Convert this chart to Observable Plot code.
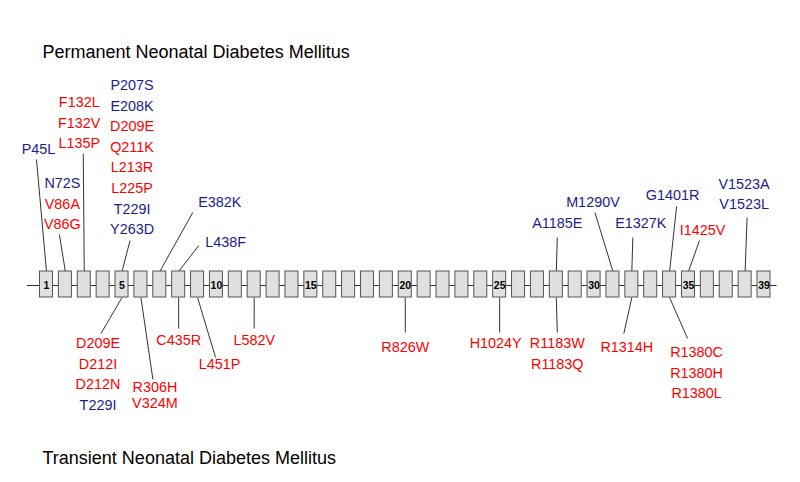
<!DOCTYPE html>
<html>
<head>
<meta charset="utf-8">
<script src="https://cdn.jsdelivr.net/npm/d3@7"></script>
<script src="https://cdn.jsdelivr.net/npm/@observablehq/plot@0.6"></script>
<style>
  html, body { margin: 0; padding: 0; background: #fff; }
  #chart svg { display: block; }
</style>
</head>
<body>
<div id="chart"></div>
<script>
// ---- Data ----
const exonNumbers = [1,2,3,4,5,6,7,8,9,10,11,12,13,14,15,16,17,18,19,20,21,22,23,24,25,26,27,28,29,30,31,32,33,34,35,36,37,38,39];
const exonTickLabels = [1,5,10,15,20,25,30,35,39];

const titleTop = "Permanent Neonatal Diabetes Mellitus";
const titleBottom = "Transient Neonatal Diabetes Mellitus";

// Permanent NDM (above the gene)
const pndmExons = [1, 2, 3, 5, 7, 8, 28, 31, 32, 34, 35, 38];
const pndmMutations = [
  ["P45L"],
  ["N72S", "V86A", "V86G"],
  ["F132L", "F132V", "L135P"],
  ["P207S", "E208K", "D209E", "Q211K", "L213R", "L225P", "T229I", "Y263D"],
  ["E382K"],
  ["L438F"],
  ["A1185E"],
  ["M1290V"],
  ["E1327K"],
  ["G1401R"],
  ["I1425V"],
  ["V1523A", "V1523L"]
];
const pndmClass = [
  ["b"],
  ["b", "r", "r"],
  ["r", "r", "r"],
  ["b", "b", "r", "r", "r", "r", "b", "b"],
  ["b"],
  ["b"],
  ["b"],
  ["b"],
  ["b"],
  ["b"],
  ["r"],
  ["b", "b"]
];

// Transient NDM (below the gene)
const tndmExons = [5, 6, 8, 9, 12, 20, 25, 28, 32, 34];
const tndmMutations = [
  ["D209E", "D212I", "D212N", "T229I"],
  ["R306H", "V324M"],
  ["C435R"],
  ["L451P"],
  ["L582V"],
  ["R826W"],
  ["H1024Y"],
  ["R1183W", "R1183Q"],
  ["R1314H"],
  ["R1380C", "R1380H", "R1380L"]
];
const tndmClass = [
  ["r", "r", "r", "b"],
  ["r", "r"],
  ["r"],
  ["r"],
  ["r"],
  ["r"],
  ["r"],
  ["r", "r"],
  ["r"],
  ["r", "r", "r"]
];

// ---- Layout (pixel offsets, not data) ----
const STEP = (763 - 46) / 38;          // px per exon
const BACKBONE_Y = 285, BOX_TOP = 271, BOX_BOTTOM = 297;
const LINE_GAP = 20.6;
// [label dx from exon centre, y of label nearest the gene, leader end dx, leader end y, line gap]
const pndmLayout = [
  [-8, 149, -10, 159, LINE_GAP],
  [-3, 224, -6, 234, LINE_GAP],
  [-5, 143, -1, 153, LINE_GAP],
  [10, 229, 8, 240, LINE_GAP],
  [60, 202, 33, 212, LINE_GAP],
  [47, 242, 20, 245, LINE_GAP],
  [1, 223, 1, 237, LINE_GAP],
  [-20, 202, -18, 212, LINE_GAP],
  [9, 223, 1, 237, LINE_GAP],
  [3, 195, 7, 206, LINE_GAP],
  [14, 230, 11, 240, LINE_GAP],
  [-1, 204, 2, 217, LINE_GAP]
];
const tndmLayout = [
  [-24, 343, -21, 333, LINE_GAP],
  [14, 387, 12, 379, 16],
  [0, 340, 0, 328, LINE_GAP],
  [22, 364, 18, 357, LINE_GAP],
  [0, 340, 0, 328, LINE_GAP],
  [0, 347, 0, 332, LINE_GAP],
  [-4, 343, 0, 332, LINE_GAP],
  [1, 343, 1, 332, LINE_GAP],
  [-5, 347, -8, 333, LINE_GAP],
  [27, 352, 18, 338, LINE_GAP]
];

const COLORS = {b: "#1c1c8c", r: "#ff0000"};
const ux = px => px / STEP;   // pixel offset -> exon units

// Build leaders and labels
const leaders = [];
const labels = [];
pndmExons.forEach((e, i) => {
  const [ldx, ly, edx, ey, gap] = pndmLayout[i];
  leaders.push({x1: e, y1: BOX_TOP, x2: e + ux(edx), y2: ey});
  const muts = pndmMutations[i];
  const n = muts.length;
  muts.forEach((m, j) => {
    labels.push({x: e + ux(ldx), y: ly - (n - 1 - j) * gap, text: m, cls: pndmClass[i][j]});
  });
});
tndmExons.forEach((e, i) => {
  const [ldx, ly, edx, ey, gap] = tndmLayout[i];
  leaders.push({x1: e, y1: BOX_BOTTOM, x2: e + ux(edx), y2: ey});
  tndmMutations[i].forEach((m, j) => {
    labels.push({x: e + ux(ldx), y: ly + j * gap, text: m, cls: tndmClass[i][j]});
  });
});

const chart = Plot.plot({
  width: 800,
  height: 482,
  margin: 0,
  style: {fontFamily: "Arial, 'Liberation Sans', sans-serif", background: "#fff"},
  x: {domain: [1, 39], range: [46, 763.5], axis: null},
  y: {domain: [0, 482], range: [0, 482], axis: null},
  marks: [
    Plot.ruleY([BACKBONE_Y], {x1: ux(27 - 46) + 1, x2: ux(776 - 46) + 1, stroke: "#333", strokeWidth: 1}),
    Plot.link(leaders, {x1: "x1", y1: "y1", x2: "x2", y2: "y2", stroke: "#333", strokeWidth: 1}),
    Plot.rect(exonNumbers, {x1: d => d - ux(6.5), x2: d => d + ux(6.5), y1: BOX_TOP, y2: BOX_BOTTOM, fill: "#e0e0e0", stroke: "#555", strokeWidth: 1}),
    Plot.text(exonTickLabels, {x: d => d, y: BACKBONE_Y, text: d => String(d), fontSize: 10.5, fontWeight: "bold", fill: "#000"}),
    Plot.text(labels, {x: "x", y: "y", text: "text", fill: d => COLORS[d.cls], fontSize: 14.4, textAnchor: "middle"}),
    Plot.text([titleTop], {frameAnchor: "top-left", dx: 42, dy: 45, text: d => d, fontSize: 18, textAnchor: "start", fill: "#000"}),
    Plot.text([titleBottom], {frameAnchor: "top-left", dx: 42, dy: 451, text: d => d, fontSize: 18, textAnchor: "start", fill: "#000"})
  ]
});
document.getElementById("chart").appendChild(chart);
</script>
</body>
</html>
